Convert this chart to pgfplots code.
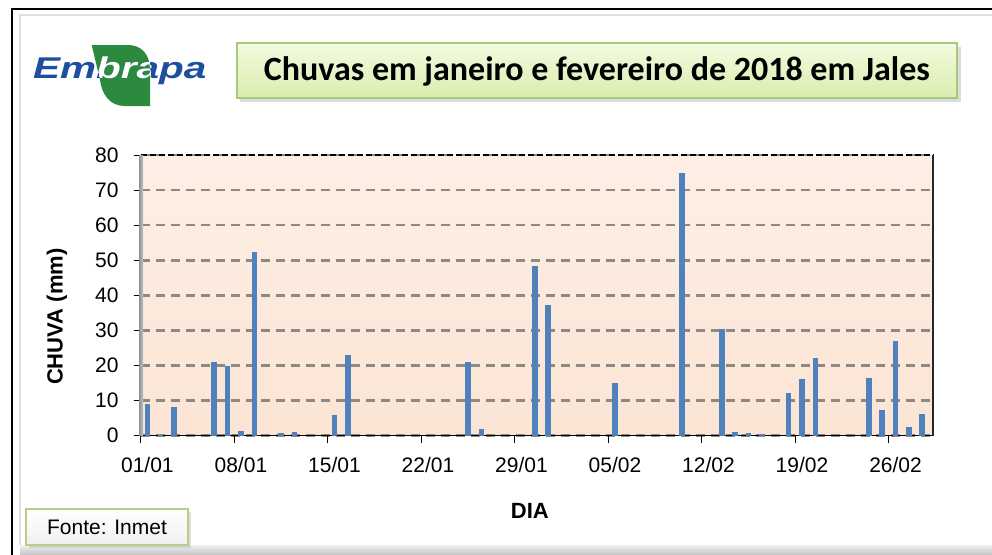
\documentclass[border=0pt]{standalone}
\usepackage{fontspec}
\setmainfont{Liberation Sans}
\newfontfamily\calibri{Carlito}
\usepackage{pgfplots}
\pgfplotsset{compat=1.18}
\definecolor{barblue}{HTML}{4F81BD}
\definecolor{peachtop}{HTML}{FDEFE6}
\definecolor{peachbot}{HTML}{FBE4D4}
\definecolor{gridgray}{HTML}{8F8985}
\definecolor{embblue}{HTML}{1D4F9E}
\definecolor{embgreen}{HTML}{2B8A3E}
\definecolor{titletop}{HTML}{F4FADF}
\definecolor{titlebot}{HTML}{D9EDAE}
\definecolor{titleborder}{HTML}{A9C97A}
\definecolor{fonteborder}{HTML}{B3CF88}
\begin{document}
\begin{tikzpicture}
\useasboundingbox (0,0) rectangle (992pt,-554pt);
\begin{scope}[x=1pt,y=-1pt]
  \fill[white] (0,0) rectangle (992,554);
  \shade[top color=gray!10, bottom color=gray!45] (20,545) rectangle (992,554);
  \draw[gray!25, line width=2pt] (20,545) -- (20,15) -- (992,15);
  \draw[black, line width=1.5pt] (12,560) -- (12,9) -- (1000,9);
  % logo
  \def\leaf{(91.7,45) -- (128,45) .. controls (142,45) and (150,55) .. (150,70) -- (150,106) -- (125,106) .. controls (110,106) and (102,95) .. (100,80) -- cycle}
  \fill[embgreen] \leaf;
  \node[anchor=base west, inner sep=0pt, text=embblue] at (33,78) {\scalebox{1.35}[1]{\fontsize{30}{34}\selectfont\bfseries\itshape Embrapa}};
  \begin{scope}
    \clip \leaf;
    \node[anchor=base west, inner sep=0pt, text=white] at (33,78) {\scalebox{1.35}[1]{\fontsize{30}{34}\selectfont\bfseries\itshape Embrapa}};
  \end{scope}
  % title box
  \fill[gray!60, opacity=0.45] (240,47) rectangle (961,102);
  \path[draw=titleborder, line width=1.2pt, top color=titletop, bottom color=titlebot] (237,43) rectangle (957,98);
  \node[font=\calibri\bfseries\fontsize{34}{40}\selectfont] at (597,71) {Chuvas em janeiro e fevereiro de 2018 em Jales};
  % fonte box
  \fill[gray!60, opacity=0.4] (29,512) rectangle (191,548);
  \path[draw=fonteborder, line width=1.5pt, top color=white, bottom color=gray!12] (26,509) rectangle (188,545);
  \node[font=\fontsize{21}{24}\selectfont] at (107,527.5) {Fonte: Inmet};
\end{scope}
\begin{axis}[
  at={(140.7pt,-435.7pt)}, anchor=south west,
  scale only axis, width=792.6pt, height=280.7pt,
  xmin=-0.5, xmax=58.83, ymin=0, ymax=80,
  axis x line*=bottom, axis y line*=left,
  x axis line style={black, line width=1.2pt},
  y axis line style={draw=none},
  axis background/.style={top color=peachtop, bottom color=peachbot},
  xtick={-0.5,6.5,...,55.5},
  xticklabels={01/01,08/01,15/01,22/01,29/01,05/02,12/02,19/02,26/02},
  ytick={0,10,...,80},
  tick align=outside,
  major tick length=7pt,
  tick style={black, line width=0.8pt},
  ymajorgrids,
  major grid style={dash pattern=on 9pt off 6pt, line width=2.5pt, color=gridgray},
  tick label style={font=\fontsize{21}{24}\selectfont},
  /pgf/number format/assume math mode=true,
  xticklabel style={anchor=north, inner sep=0pt, xshift=6.7pt, yshift=-14pt},
  yticklabel style={anchor=east, inner sep=0pt, xshift=-15pt},
  xlabel={DIA}, ylabel={CHUVA (mm)},
  label style={font=\bfseries\fontsize{22}{26}\selectfont},
  xlabel style={at={(axis description cs:0.491,-0.2683)}, anchor=center},
  ylabel style={at={(axis description cs:-0.1056,0.424)}, anchor=center},
  clip=false,
]
\addplot[ycomb, mark=none, draw=barblue, line width=5.5pt] coordinates {
(0,9.0) (1,0.3) (2,8.3) (5,20.9) (6,20.0) (7,1.3) (8,52.3) (10,0.9) (11,1.0)
(14,5.8) (15,23.1) (24,20.9) (25,1.8) (29,48.3) (30,37.3) (35,15.0)
(40,75.0) (43,30.3) (44,1.0) (45,0.7) (46,0.4) (48,12.1) (49,16.3) (50,22.1)
(54,16.5) (55,7.4) (56,26.9) (57,2.4) (58,6.2)
};
\draw[black, line width=2pt, dash pattern=on 6pt off 3pt] (rel axis cs:0,1) -- (rel axis cs:1,1);
\draw[black!85, line width=1.8pt] (rel axis cs:1,0) -- (rel axis cs:1,1);
\shade[left color=gray!85, right color=gray!45] ([xshift=-1.5pt]rel axis cs:0,0) rectangle ([xshift=2.5pt]rel axis cs:0,1);
\end{axis}
\end{tikzpicture}
\end{document}
